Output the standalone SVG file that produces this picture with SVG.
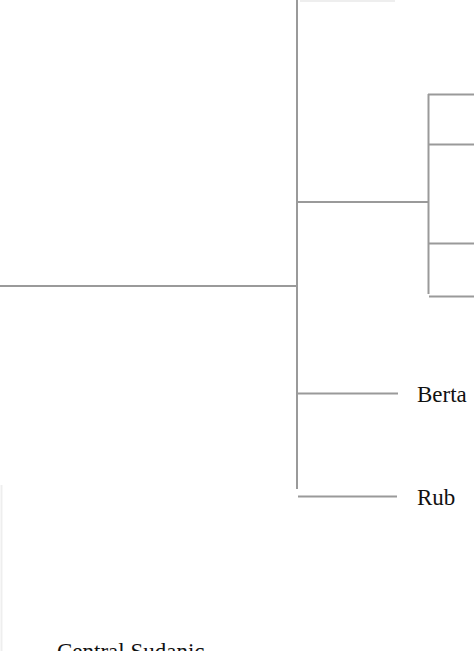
<svg xmlns="http://www.w3.org/2000/svg" width="474" height="651" viewBox="0 0 474 651">
<style>
.e{stroke:#9a9a9a;stroke-width:2;fill:none}
.f{stroke:#eeeeee;stroke-width:2;fill:none}
text{font-family:"Liberation Serif","Times New Roman",serif;font-size:23px;fill:#111}
</style>
<rect width="474" height="651" fill="#fff"/>
<g id="connectors">
<line class="f" x1="300" y1="1" x2="395" y2="1"/>
<line class="f" x1="1.5" y1="485" x2="1.5" y2="651"/>
<line class="e" x1="0" y1="286" x2="297" y2="286"/>
<line class="e" x1="297" y1="0" x2="297" y2="489"/>
<line class="e" x1="298" y1="202" x2="428" y2="202"/>
<line class="e" x1="428.5" y1="94" x2="428.5" y2="294"/>
<line class="e" x1="428" y1="94.5" x2="474" y2="94.5"/>
<line class="e" x1="429" y1="144.5" x2="474" y2="144.5"/>
<line class="e" x1="429" y1="243.5" x2="474" y2="243.5"/>
<line class="e" x1="429" y1="296.5" x2="474" y2="296.5"/>
<line class="e" x1="298" y1="393.5" x2="398" y2="393.5"/>
<line class="e" x1="298" y1="496.5" x2="397" y2="496.5"/>
</g>
<g id="berta"><text x="417" y="402">Berta</text></g>
<g id="rub"><text x="417" y="505">Rub</text></g>
<g id="central-sudanic"><text x="57" y="659">Central Sudanic</text></g>
</svg>
